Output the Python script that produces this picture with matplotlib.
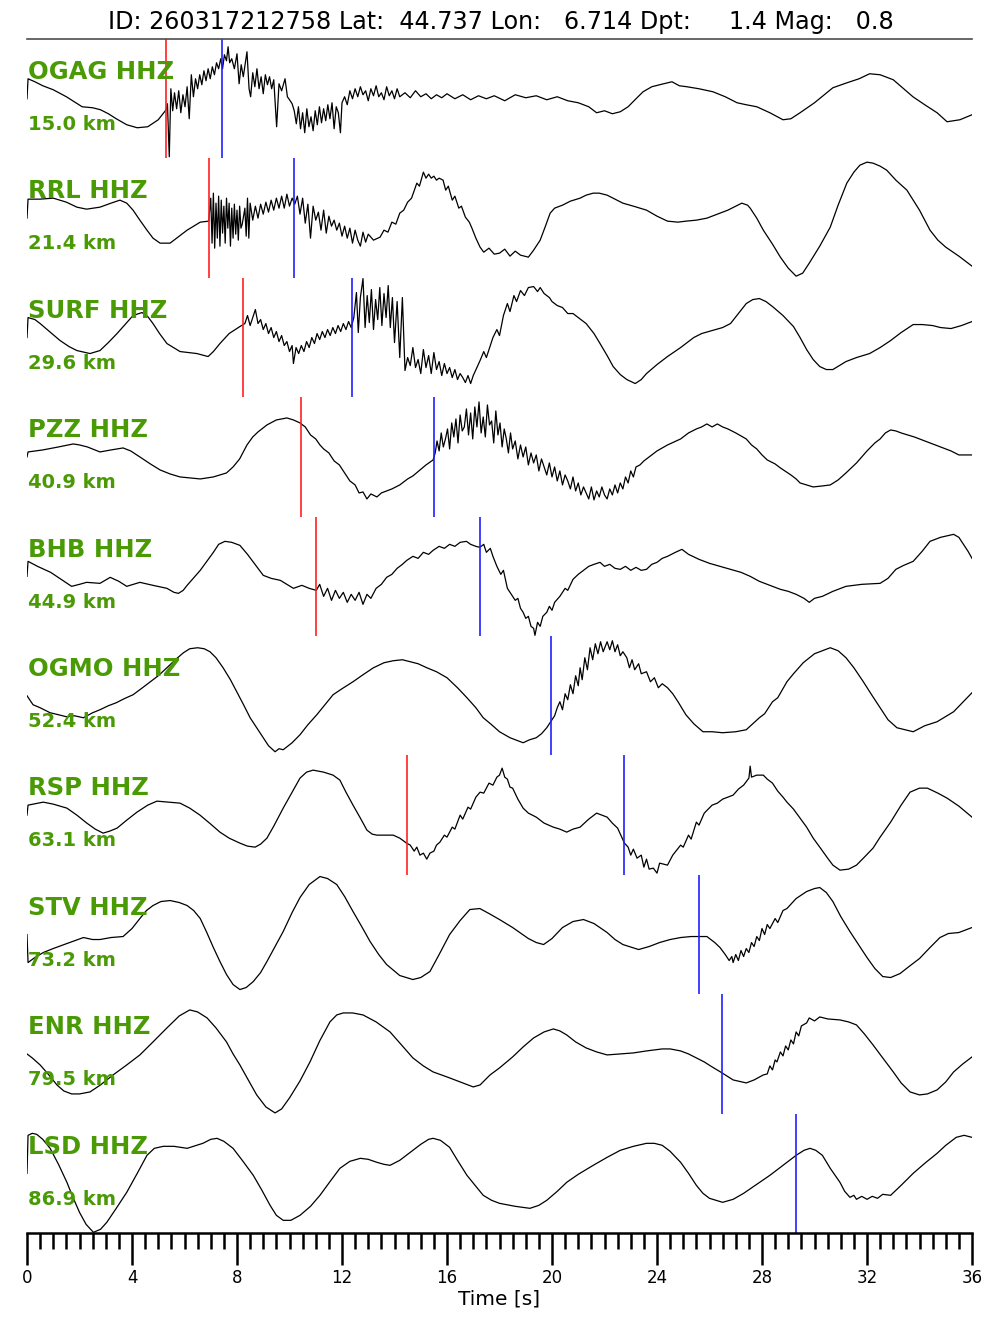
import numpy as np
import matplotlib
matplotlib.use('Agg')
import matplotlib.pyplot as plt
from matplotlib.ticker import MultipleLocator

# ------------------------------------------------------------------
#   Data (time [s], amplitude)
# ------------------------------------------------------------------
title = 'ID: 260317212758 Lat:  44.737 Lon:   6.714 Dpt:     1.4 Mag:   0.8'

stations = ['OGAG HHZ', 'RRL HHZ', 'SURF HHZ', 'PZZ HHZ', 'BHB HHZ',
            'OGMO HHZ', 'RSP HHZ', 'STV HHZ', 'ENR HHZ', 'LSD HHZ']
distances = [15.0, 21.4, 29.6, 40.9, 44.9, 52.4, 63.1, 73.2, 79.5, 86.9]
p_picks = [5.30, 6.92, 8.23, 10.44, 11.02, None, 14.46, None, None, None]
s_picks = [7.43, 10.17, 12.39, 15.50, 17.25, 19.95, 22.76, 25.59, 26.48, 29.30]

ogag = [(0, 0), (0.04, 20), (0.3, 17), (0.6, 13), (1.0, 9), (1.5, 2), (2.1, -8), (2.5, -9),
        (2.8, -11), (3.1, -15), (3.4, -20), (3.8, -26), (4.2, -29), (4.6, -28), (5.0, -21),
        (5.3, -11), (5.35, -5), (5.42, -58), (5.48, 10), (5.55, -12), (5.62, 6), (5.7, -10),
        (5.78, 8), (5.86, -14), (5.94, 4), (6.02, -8), (6.1, 12), (6.18, -20), (6.26, 24),
        (6.34, 2), (6.42, 20), (6.5, 10), (6.58, 24), (6.66, 14), (6.74, 28), (6.82, 18),
        (6.9, 30), (6.98, 20), (7.06, 32), (7.14, 24), (7.22, 36), (7.3, 30), (7.38, 40),
        (7.45, 30), (7.52, 44), (7.6, 38), (7.66, 52), (7.72, 36), (7.8, 40), (7.9, 30),
        (8.0, 45), (8.08, 15), (8.16, 34), (8.24, 22), (8.38, 47), (8.46, 10), (8.52, 2),
        (8.6, 26), (8.68, 12), (8.76, 30), (8.84, 10), (8.92, 22), (9.0, 5), (9.08, 24),
        (9.16, 14), (9.24, 22), (9.32, 10), (9.4, 19), (9.51, -28), (9.6, 15), (9.7, 8),
        (9.83, 20), (9.92, 2), (10.0, -1), (10.1, -5), (10.18, -12), (10.26, -25),
        (10.34, -8), (10.42, -30), (10.5, -14), (10.58, -34), (10.66, -10), (10.74, -28),
        (10.82, -18), (10.9, -32), (10.98, -12), (11.06, -26), (11.14, -8), (11.22, -24),
        (11.3, -10), (11.38, -22), (11.46, -6), (11.54, -20), (11.62, -4), (11.7, -30),
        (11.78, -8), (11.86, -14), (11.94, -34), (12.0, -4), (12.1, 2), (12.2, -6),
        (12.3, 8), (12.4, 0), (12.5, 10), (12.6, 2), (12.7, 12), (12.8, 4), (12.9, 8),
        (13.0, -2), (13.1, 10), (13.2, 3), (13.3, 13), (13.4, 2), (13.5, 6), (13.6, -1),
        (13.7, 12), (13.8, 3), (13.9, 8), (14.0, 0), (14.1, 10), (14.2, 2), (14.4, 6),
        (14.6, 1), (14.8, 8), (15.0, 2), (15.2, 5), (15.4, 0), (15.6, 4), (15.8, 1),
        (16.0, 5), (16.3, 0), (16.6, 4), (16.9, -1), (17.2, 3), (17.5, 0), (17.8, 3),
        (18.2, -2), (18.6, 4), (19.0, 1), (19.4, 3), (19.8, -1), (20.2, 2), (20.6, -2),
        (21.0, -4), (21.4, -8), (21.7, -14), (22.0, -12), (22.3, -15), (22.6, -13),
        (22.9, -8), (23.2, 0), (23.47, 7), (23.8, 12), (24.1, 14), (24.57, 17),
        (24.85, 13), (25.14, 12), (25.6, 10), (26.13, 7), (26.6, 2), (27.05, -4),
        (27.4, -6), (27.8, -8), (28.3, -14), (28.8, -21), (29.1, -20), (29.45, -14),
        (30.0, -4), (30.7, 11), (31.24, 16), (31.7, 20), (32.1, 25), (32.5, 24),
        (33.0, 19), (33.4, 10), (33.75, 2), (34.2, -6), (34.67, -14), (35.05, -23),
        (35.54, -21), (36, -16)]

rrl = [(0, 0), (0.04, 19), (0.5, 19), (1.0, 20), (1.5, 16), (1.9, 11), (2.27, 9),
       (2.78, 11), (3.2, 15), (3.54, 18), (3.8, 15), (4.04, 8), (4.3, -2), (4.57, -12),
       (4.8, -20), (5.07, -25), (5.45, -25), (5.8, -18), (6.1, -12), (6.6, -4), (6.92, -3),
       (7.0, 20), (7.05, -25), (7.1, 25), (7.15, -30), (7.2, 15), (7.25, -20), (7.3, 22),
       (7.35, -28), (7.4, 18), (7.45, -15), (7.5, 12), (7.55, -25), (7.6, 20), (7.65, -10),
       (7.7, 15), (7.75, -28), (7.8, 10), (7.85, -20), (7.9, 14), (7.95, -16), (8.0, 8),
       (8.05, -22), (8.1, 12), (8.15, -10), (8.2, -6), (8.3, 10), (8.35, -18), (8.4, 20),
       (8.45, -20), (8.5, 15), (8.6, -2), (8.7, 12), (8.8, 0), (8.9, 14), (9.0, 4),
       (9.1, 16), (9.2, 6), (9.3, 18), (9.4, 8), (9.5, 20), (9.6, 10), (9.7, 22), (9.8, 10),
       (9.9, 24), (10.0, 12), (10.1, 20), (10.2, 14), (10.3, 22), (10.4, 4), (10.5, 20),
       (10.6, -5), (10.7, 14), (10.8, -20), (10.9, 12), (11.0, -2), (11.1, 6), (11.2, -12),
       (11.3, 8), (11.4, -15), (11.5, 2), (11.6, -8), (11.7, -2), (11.8, -12), (11.9, -5),
       (12.0, -18), (12.1, -8), (12.2, -20), (12.3, -10), (12.4, -25), (12.5, -12),
       (12.6, -22), (12.7, -28), (12.8, -14), (12.9, -24), (13.0, -16), (13.2, -22),
       (13.45, -19), (13.6, -12), (13.75, -14), (13.9, -4), (14.05, -6), (14.2, 5),
       (14.35, 8), (14.5, 16), (14.65, 20), (14.85, 35), (14.95, 32), (15.1, 46),
       (15.2, 40), (15.3, 44), (15.4, 40), (15.5, 42), (15.6, 38), (15.7, 40), (15.85, 38),
       (15.95, 28), (16.05, 32), (16.2, 18), (16.3, 22), (16.45, 10), (16.55, 12),
       (16.7, 1), (16.85, -4), (16.95, -10), (17.1, -20), (17.26, -29), (17.4, -34),
       (17.6, -30), (17.8, -36), (18.0, -35), (18.2, -31), (18.4, -38), (18.6, -33),
       (18.8, -37), (19.1, -39), (19.3, -32), (19.55, -22), (19.75, -8), (19.93, 5),
       (20.1, 10), (20.4, 13), (20.7, 17), (21.07, 20), (21.3, 23), (21.57, 25),
       (21.8, 25), (22.1, 23), (22.4, 19), (22.7, 15), (23.1, 12), (23.6, 8), (24.0, 2),
       (24.4, -3), (24.8, -4), (25.1, -3), (25.5, -2), (25.9, 0), (26.3, 4), (26.7, 8),
       (27.0, 12), (27.23, 15), (27.45, 13), (27.55, 10), (27.8, 0), (28.05, -12),
       (28.4, -26), (28.7, -39), (29.0, -50), (29.3, -58), (29.55, -55), (29.8, -45),
       (30.2, -28), (30.6, -9), (30.9, 13), (31.23, 35), (31.5, 46), (31.73, 53),
       (32.0, 56), (32.23, 55), (32.5, 52), (32.75, 48), (33.1, 38), (33.52, 28), (34.0, 8),
       (34.4, -12), (34.7, -22), (35.0, -29), (35.5, -38), (36, -48)]

surf = [(0, 0), (0.04, 20), (0.3, 18), (0.5, 14), (0.9, 5), (1.26, -3), (1.6, -9),
        (1.9, -13), (2.4, -16), (2.78, -13), (3.1, -5), (3.43, 4), (3.8, 15), (4.04, 22),
        (4.38, 25), (4.6, 21), (4.8, 14), (5.05, 4), (5.33, -6), (5.83, -14), (6.47, -16),
        (6.9, -19), (7.1, -14), (7.35, -6), (7.7, 4), (8.11, 11), (8.3, 14), (8.4, 22),
        (8.5, 12), (8.6, 20), (8.7, 28), (8.8, 14), (8.9, 18), (9.0, 8), (9.1, 14), (9.2, 4),
        (9.3, 10), (9.4, 0), (9.5, 6), (9.6, -4), (9.7, 2), (9.8, -8), (9.9, -4),
        (10.0, -14), (10.1, -8), (10.15, -26), (10.25, -10), (10.35, -16), (10.45, -8),
        (10.55, -14), (10.65, -4), (10.75, -10), (10.85, 0), (10.95, -6), (11.05, 4),
        (11.15, -2), (11.25, 6), (11.35, 0), (11.45, 8), (11.55, 2), (11.65, 10),
        (11.75, 4), (11.85, 12), (11.95, 6), (12.05, 14), (12.15, 8), (12.25, 16),
        (12.35, 10), (12.45, 20), (12.55, 45), (12.62, 5), (12.7, 40), (12.8, 59),
        (12.88, 10), (12.96, 42), (13.04, 15), (13.12, 48), (13.2, 8), (13.28, 38),
        (13.36, 18), (13.44, 50), (13.52, 12), (13.6, 44), (13.68, 20), (13.76, 52),
        (13.84, 10), (13.92, 40), (14.0, -5), (14.1, 36), (14.2, -20), (14.3, 40),
        (14.4, -33), (14.5, -20), (14.6, -28), (14.7, -10), (14.8, -30), (14.9, -22),
        (15.0, -36), (15.1, -12), (15.2, -30), (15.3, -18), (15.4, -36), (15.5, -15),
        (15.6, -32), (15.7, -24), (15.8, -38), (15.9, -26), (16.0, -36), (16.1, -30),
        (16.2, -40), (16.3, -32), (16.4, -42), (16.5, -36), (16.6, -40), (16.7, -45),
        (16.8, -38), (16.9, -46), (17.0, -38), (17.26, -23), (17.4, -14), (17.5, -20),
        (17.75, 0), (17.9, 8), (18.0, 2), (18.15, 22), (18.3, 34), (18.4, 26), (18.55, 42),
        (18.65, 36), (18.8, 47), (18.95, 42), (19.1, 50), (19.3, 51), (19.45, 46),
        (19.55, 50), (19.7, 44), (19.9, 40), (20.0, 36), (20.2, 32), (20.4, 30), (20.6, 24),
        (20.8, 24), (21.3, 14), (21.6, 4), (21.83, -6), (22.1, -18), (22.33, -29),
        (22.6, -37), (22.85, -42), (23.17, -46), (23.4, -42), (23.6, -36), (24.0, -27),
        (24.4, -19), (24.9, -10), (25.4, 0), (25.7, 4), (26.1, 7), (26.5, 10), (26.8, 14),
        (27.1, 24), (27.4, 34), (27.65, 38), (27.9, 39), (28.15, 36), (28.4, 31),
        (28.8, 22), (29.2, 11), (29.45, 0), (29.7, -12), (29.95, -22), (30.2, -29),
        (30.45, -32), (30.7, -32), (30.95, -28), (31.2, -24), (31.6, -20), (32.1, -16),
        (32.5, -10), (32.9, -3), (33.3, 5), (33.76, 13), (34.1, 13), (34.5, 12), (34.8, 10),
        (35.2, 9), (35.6, 12), (36, 16)]

pzz = [(0, 0), (0.04, 5), (0.6, 7), (1.2, 10), (1.76, 13), (2.0, 12), (2.3, 10),
       (2.78, 5), (3.2, 7), (3.66, 9), (3.95, 6), (4.3, 0), (4.7, -7), (5.07, -13),
       (5.45, -17), (5.83, -20), (6.2, -21), (6.6, -22), (7.1, -20), (7.6, -16),
       (7.85, -10), (8.1, -2), (8.38, 12), (8.6, 20), (8.8, 25), (9.14, 32), (9.5, 37),
       (9.9, 39), (10.15, 37), (10.4, 34), (10.6, 30), (10.8, 22), (11.0, 18), (11.16, 12),
       (11.3, 8), (11.5, 4), (11.7, -4), (11.9, -8), (12.1, -16), (12.3, -24), (12.5, -28),
       (12.65, -36), (12.8, -35), (12.95, -42), (13.1, -37), (13.33, -40), (13.5, -36),
       (13.7, -34), (13.9, -32), (14.2, -28), (14.5, -22), (14.7, -19), (14.97, -13),
       (15.2, -8), (15.47, -3), (15.55, 4), (15.62, 16), (15.7, 6), (15.78, 24),
       (15.86, 10), (15.94, 18), (16.02, 28), (16.1, 8), (16.18, 34), (16.26, 20),
       (16.34, 38), (16.42, 14), (16.5, 42), (16.58, 26), (16.66, 30), (16.74, 48),
       (16.82, 22), (16.9, 44), (16.98, 18), (17.06, 50), (17.14, 30), (17.22, 55),
       (17.3, 24), (17.38, 40), (17.46, 20), (17.54, 52), (17.62, 32), (17.7, 36),
       (17.78, 14), (17.86, 46), (17.94, 22), (18.02, 34), (18.1, 10), (18.18, 28),
       (18.26, 18), (18.34, 4), (18.42, 24), (18.5, 8), (18.6, 16), (18.7, -2), (18.8, 12),
       (18.9, 0), (19.0, 10), (19.1, -8), (19.2, 4), (19.3, -6), (19.4, 2), (19.5, -14),
       (19.6, -2), (19.7, -10), (19.8, -18), (19.9, -6), (20.0, -20), (20.1, -10),
       (20.2, -24), (20.3, -14), (20.4, -28), (20.5, -18), (20.6, -24), (20.7, -32),
       (20.8, -20), (20.9, -34), (21.0, -26), (21.1, -38), (21.2, -30), (21.3, -36),
       (21.4, -42), (21.5, -30), (21.6, -43), (21.7, -34), (21.8, -40), (21.9, -30),
       (22.0, -38), (22.1, -42), (22.2, -32), (22.3, -38), (22.4, -28), (22.5, -36),
       (22.6, -26), (22.7, -32), (22.8, -20), (22.9, -26), (23.0, -14), (23.1, -20),
       (23.2, -10), (23.35, -8), (23.5, -4), (23.6, -2), (24.0, 6), (24.4, 12), (24.9, 18),
       (25.2, 24), (25.5, 28), (25.7, 30), (25.9, 33), (26.1, 30), (26.3, 33), (26.5, 30),
       (26.7, 28), (27.0, 24), (27.4, 18), (27.6, 12), (27.8, 8), (28.0, 2), (28.2, -3),
       (28.5, -7), (28.7, -11), (29.1, -18), (29.3, -22), (29.45, -26), (29.7, -28),
       (29.95, -30), (30.3, -29), (30.6, -28), (30.9, -23), (31.2, -16), (31.6, -6),
       (32.0, 6), (32.3, 14), (32.5, 18), (32.7, 24), (32.9, 27), (33.1, 26), (33.3, 24),
       (33.8, 20), (34.3, 15), (34.8, 10), (35.2, 6), (35.5, 2), (36, 2)]

bhb = [(0, 0), (0.04, 15), (0.4, 10), (0.9, 4), (1.3, -3), (1.7, -10), (2.0, -8),
       (2.27, -6), (2.78, -7), (3.17, -1), (3.5, -5), (3.8, -10), (4.3, -6), (4.8, -9),
       (5.33, -12), (5.6, -16), (5.77, -17), (5.95, -14), (6.1, -9), (6.6, 6), (7.1, 24),
       (7.3, 32), (7.54, 35), (7.8, 34), (8.11, 31), (8.4, 22), (8.63, 14), (9.0, 1),
       (9.3, -2), (9.65, -4), (9.9, -8), (10.15, -12), (10.47, -9), (10.75, -12),
       (11.02, -14), (11.15, -8), (11.3, -20), (11.45, -12), (11.6, -24), (11.75, -14),
       (11.9, -22), (12.05, -16), (12.2, -26), (12.35, -18), (12.5, -24), (12.65, -16),
       (12.8, -28), (12.95, -18), (13.1, -22), (13.3, -12), (13.5, -8), (13.7, -1),
       (13.9, 2), (14.1, 8), (14.3, 12), (14.47, 16), (14.7, 20), (14.9, 18), (15.1, 24),
       (15.3, 22), (15.47, 26), (15.7, 30), (15.9, 28), (16.1, 32), (16.3, 30), (16.5, 34),
       (16.74, 35), (16.9, 32), (17.1, 30), (17.25, 29), (17.4, 32), (17.5, 24),
       (17.65, 28), (17.75, 20), (17.9, 10), (18.05, 2), (18.15, 6), (18.3, -12),
       (18.45, -18), (18.6, -24), (18.7, -22), (18.8, -32), (18.9, -36), (19.0, -42),
       (19.1, -40), (19.2, -50), (19.3, -52), (19.35, -59), (19.45, -46), (19.55, -50),
       (19.65, -40), (19.8, -36), (19.9, -30), (20.0, -34), (20.1, -26), (20.3, -20),
       (20.5, -12), (20.6, -14), (20.8, -3), (21.0, 2), (21.2, 6), (21.4, 10), (21.6, 12),
       (21.83, 14), (22.0, 10), (22.2, 12), (22.4, 8), (22.6, 7), (22.8, 10), (23.0, 6),
       (23.2, 9), (23.4, 6), (23.6, 7), (23.8, 12), (24.0, 14), (24.2, 18), (24.4, 20),
       (24.7, 24), (24.95, 27), (25.2, 22), (25.6, 17), (26.0, 13), (26.4, 10), (26.8, 7),
       (27.2, 4), (27.55, 0), (27.9, -5), (28.3, -9), (28.7, -13), (29.0, -15), (29.3, -18),
       (29.6, -22), (29.8, -26), (30.0, -22), (30.3, -20), (30.7, -15), (31.2, -10),
       (31.8, -8), (32.5, -7), (32.8, -2), (33.1, 7), (33.4, 11), (33.76, 15), (34.1, 25),
       (34.4, 35), (34.8, 39), (35.3, 42), (35.5, 39), (35.65, 33), (35.85, 25), (36, 18)]

ogmo = [(0, 0), (0.23, -9), (0.5, -12), (0.88, -17), (1.2, -19), (1.5, -21), (1.8, -20),
        (2.15, -22), (2.5, -17), (2.78, -14), (3.1, -10), (3.4, -7), (3.7, -3), (4.04, 1),
        (4.4, 8), (4.7, 14), (5.0, 20), (5.33, 28), (5.65, 36), (5.96, 43), (6.2, 47),
        (6.5, 48), (6.75, 47), (6.97, 44), (7.2, 38), (7.47, 28), (7.75, 16), (7.99, 4),
        (8.25, -9), (8.5, -22), (8.75, -32), (9.0, -42), (9.2, -50), (9.45, -56),
        (9.6, -53), (9.76, -54), (10.1, -47), (10.4, -39), (10.7, -29), (11.04, -19),
        (11.35, -9), (11.66, 1), (12.0, 7), (12.42, 14), (12.8, 21), (13.2, 28), (13.6, 33),
        (13.95, 35), (14.3, 36), (14.6, 34), (14.9, 32), (15.23, 28), (15.6, 24), (16.0, 18),
        (16.4, 8), (16.76, -2), (17.1, -12), (17.38, -22), (17.7, -29), (18.0, -36),
        (18.4, -42), (18.9, -47), (19.15, -44), (19.4, -42), (19.6, -38), (19.8, -32),
        (19.95, -26), (20.1, -20), (20.2, -12), (20.3, -6), (20.4, -14), (20.5, 2),
        (20.6, -4), (20.7, 11), (20.8, 2), (20.9, 20), (21.0, 10), (21.07, 28), (21.15, 16),
        (21.25, 38), (21.35, 26), (21.45, 48), (21.55, 36), (21.65, 52), (21.75, 42),
        (21.85, 54), (21.95, 44), (22.1, 54), (22.2, 46), (22.3, 55), (22.4, 44),
        (22.5, 51), (22.6, 40), (22.7, 44), (22.85, 38), (22.95, 28), (23.05, 36),
        (23.15, 26), (23.3, 32), (23.4, 22), (23.6, 24), (23.75, 14), (23.9, 18),
        (24.05, 8), (24.2, 12), (24.4, 8), (24.6, 2), (24.8, -6), (25.1, -19), (25.4, -28),
        (25.75, -36), (26.1, -36), (26.5, -37), (27.0, -36), (27.4, -34), (27.9, -22),
        (28.1, -18), (28.4, -6), (28.6, -2), (28.95, 14), (29.2, 22), (29.57, 33),
        (30.0, 42), (30.6, 48), (30.9, 45), (31.2, 38), (31.5, 28), (31.86, 14), (32.2, 0),
        (32.5, -12), (32.8, -24), (33.14, -32), (33.76, -36), (34.2, -30), (34.67, -26),
        (35.3, -16), (36, 3)]

rsp = [(0, 0), (0.04, 10), (0.62, 13), (1.0, 11), (1.52, 7), (1.9, 0), (2.28, -8),
       (2.6, -14), (2.9, -18), (3.15, -16), (3.43, -13), (3.8, -5), (4.19, 3), (4.6, 10),
       (4.95, 14), (5.4, 13), (5.83, 12), (6.2, 7), (6.59, 0), (7.0, -9), (7.35, -17),
       (7.7, -23), (8.11, -28), (8.4, -31), (8.69, -32), (8.9, -29), (9.14, -23),
       (9.4, -11), (9.76, 7), (10.1, 23), (10.4, 37), (10.65, 43), (10.9, 45), (11.3, 43),
       (11.66, 40), (11.92, 35), (12.15, 23), (12.42, 10), (12.7, -3), (12.95, -15),
       (13.15, -19), (13.33, -20), (13.95, -20), (14.2, -23), (14.46, -28), (14.6, -30),
       (14.75, -36), (14.85, -32), (14.97, -40), (15.1, -38), (15.23, -44), (15.35, -38),
       (15.5, -36), (15.6, -30), (15.73, -27), (15.9, -20), (16.0, -22), (16.2, -12),
       (16.3, -14), (16.5, 0), (16.6, -4), (16.8, 8), (16.9, 6), (17.1, 18), (17.26, 23),
       (17.4, 22), (17.6, 32), (17.75, 30), (17.9, 38), (18.0, 40), (18.1, 47), (18.2, 38),
       (18.3, 36), (18.4, 28), (18.5, 27), (18.7, 16), (18.9, 7), (19.1, 2), (19.4, -2),
       (19.7, -8), (20.05, -12), (20.3, -14), (20.56, -17), (20.8, -14), (21.07, -12),
       (21.4, -4), (21.7, 2), (21.9, 0), (22.1, -2), (22.3, -8), (22.5, -13), (22.76, -28),
       (22.9, -32), (23.0, -40), (23.1, -34), (23.24, -43), (23.4, -40), (23.5, -52),
       (23.6, -44), (23.7, -54), (23.86, -53), (24.0, -58), (24.1, -48), (24.4, -50),
       (24.6, -40), (24.9, -30), (25.0, -32), (25.2, -20), (25.3, -24), (25.5, -7),
       (25.6, -10), (25.8, 2), (26.1, 10), (26.3, 12), (26.5, 16), (26.9, 20), (27.1, 26),
       (27.3, 30), (27.5, 37), (27.55, 49), (27.6, 38), (27.8, 40), (28.05, 40),
       (28.2, 36), (28.4, 32), (28.6, 24), (28.8, 18), (28.95, 13), (29.2, 6), (29.45, -3),
       (29.7, -12), (29.95, -23), (30.2, -32), (30.5, -43), (30.7, -50), (30.97, -55),
       (31.3, -54), (31.6, -50), (31.9, -42), (32.23, -33), (32.5, -22), (32.9, -7),
       (33.3, 10), (33.64, 23), (34.0, 27), (34.3, 27), (34.7, 22), (35.05, 17),
       (35.5, 9), (36, -2)]

stv = [(0, 0), (0.04, -28), (0.3, -23), (0.62, -18), (1.0, -14), (1.52, -9), (2.15, -3),
       (2.5, -5), (2.78, -5), (3.2, -3), (3.66, -2), (4.0, 6), (4.3, 16), (4.55, 24),
       (4.8, 29), (5.1, 33), (5.45, 34), (5.8, 32), (6.1, 29), (6.35, 24), (6.6, 16),
       (6.85, 2), (7.1, -13), (7.35, -27), (7.6, -40), (7.85, -50), (8.11, -55),
       (8.35, -53), (8.62, -47), (8.9, -38), (9.14, -27), (9.45, -12), (9.76, 3),
       (10.1, 22), (10.4, 37), (10.75, 50), (11.16, 58), (11.45, 56), (11.8, 50),
       (12.1, 38), (12.42, 23), (12.75, 8), (13.07, -7), (13.4, -20), (13.7, -30),
       (14.2, -41), (14.7, -45), (15.0, -43), (15.35, -37), (15.7, -20), (16.1, 0),
       (16.5, 14), (16.87, 25), (17.25, 26), (17.6, 21), (18.0, 15), (18.5, 7), (19.1, -4),
       (19.4, -8), (19.68, -10), (20.0, -4), (20.4, 7), (20.8, 13), (21.2, 15), (21.6, 11),
       (22.1, 2), (22.4, -5), (22.7, -10), (23.3, -15), (23.7, -12), (24.1, -8),
       (24.5, -5), (24.9, -3), (25.3, -2), (25.59, -2), (25.9, -2), (26.2, -8),
       (26.4, -13), (26.6, -20), (26.75, -26), (26.85, -22), (26.9, -28), (27.0, -20),
       (27.1, -26), (27.2, -16), (27.3, -22), (27.4, -14), (27.5, -18), (27.6, -8),
       (27.7, -12), (27.8, -2), (27.9, -6), (28.0, 6), (28.1, 0), (28.2, 10), (28.3, 6),
       (28.5, 16), (28.6, 12), (28.8, 24), (28.95, 26), (29.3, 36), (29.7, 43), (30.0, 46),
       (30.2, 47), (30.45, 42), (30.7, 33), (31.0, 18), (31.35, 3), (31.7, -11),
       (32.0, -23), (32.3, -34), (32.6, -42), (32.9, -43), (33.26, -39), (33.6, -32),
       (34.0, -24), (34.4, -13), (34.78, -3), (35.1, 1), (35.5, 2), (35.8, 5), (36, 7)]

enr = [(0, 0), (0.2, -4), (0.5, -11), (0.8, -20), (1.14, -31), (1.4, -37), (1.7, -40),
       (2.0, -40), (2.4, -38), (2.8, -31), (3.28, -21), (3.8, -11), (4.3, -1), (4.8, 12),
       (5.33, 26), (5.8, 38), (6.2, 44), (6.5, 42), (6.86, 36), (7.2, 26), (7.6, 12),
       (7.85, 0), (8.11, -11), (8.45, -27), (8.75, -41), (9.1, -53), (9.45, -59),
       (9.7, -55), (10.0, -44), (10.4, -27), (10.78, -8), (11.15, 13), (11.54, 32),
       (11.8, 39), (12.05, 41), (12.4, 41), (12.8, 39), (13.3, 32), (13.83, 22), (14.3, 8),
       (14.7, -4), (15.1, -12), (15.47, -18), (16.0, -23), (16.5, -28), (16.8, -31),
       (17.0, -33), (17.26, -31), (17.64, -21), (18.0, -14), (18.5, -3), (18.9, 7),
       (19.3, 16), (19.7, 22), (20.05, 25), (20.3, 23), (20.56, 19), (20.9, 12), (21.3, 6),
       (21.7, 2), (22.1, -1), (22.6, 0), (23.1, 1), (23.6, 3), (24.2, 5), (24.5, 5),
       (24.9, 3), (25.2, 0), (25.5, -4), (25.8, -8), (26.1, -13), (26.48, -19), (26.9, -26),
       (27.4, -29), (27.7, -26), (28.05, -21), (28.2, -20), (28.3, -12), (28.4, -16),
       (28.5, -6), (28.57, -8), (28.7, 2), (28.8, -2), (28.9, 8), (29.0, 4), (29.1, 14),
       (29.2, 10), (29.3, 22), (29.4, 18), (29.5, 28), (29.7, 31), (29.8, 36), (30.0, 33),
       (30.2, 37), (30.5, 35), (30.97, 34), (31.3, 32), (31.6, 29), (31.9, 20), (32.23, 9),
       (32.6, -4), (33.0, -18), (33.3, -29), (33.64, -38), (34.0, -41), (34.3, -40),
       (34.67, -36), (35.0, -28), (35.3, -18), (35.65, -10), (36, -3)]

lsd = [(0, 0), (0.04, 38), (0.2, 40), (0.37, 39), (0.6, 34), (0.88, 25), (1.2, 9),
       (1.52, -9), (1.75, -24), (2.0, -39), (2.25, -51), (2.53, -59), (2.8, -56),
       (3.04, -49), (3.4, -35), (3.8, -19), (4.2, 0), (4.57, 18), (4.85, 25), (5.19, 27),
       (5.6, 27), (6.1, 25), (6.7, 30), (7.0, 34), (7.24, 35), (7.5, 32), (7.85, 25),
       (8.2, 13), (8.62, -2), (8.95, -17), (9.26, -32), (9.5, -42), (9.76, -47),
       (10.05, -47), (10.4, -42), (10.8, -33), (11.16, -22), (11.55, -8), (11.92, 5),
       (12.3, 12), (12.7, 15), (13.0, 14), (13.33, 11), (13.6, 9), (13.83, 8), (14.2, 13),
       (14.6, 21), (15.0, 29), (15.3, 34), (15.47, 35), (15.75, 33), (16.1, 26), (16.4, 13),
       (16.76, -2), (17.1, -13), (17.38, -22), (17.7, -27), (18.0, -30), (18.6, -33),
       (19.16, -35), (19.5, -32), (19.8, -27), (20.2, -18), (20.56, -9), (21.0, -1),
       (21.57, 8), (22.1, 16), (22.6, 23), (23.1, 27), (23.6, 30), (23.9, 30), (24.2, 28),
       (24.5, 22), (24.9, 11), (25.2, 0), (25.5, -12), (25.75, -20), (26.0, -25),
       (26.5, -29), (26.9, -26), (27.3, -20), (27.8, -11), (28.3, -2), (28.8, 8),
       (29.3, 18), (29.6, 23), (29.83, 25), (30.05, 23), (30.3, 18), (30.6, 5), (30.97, -9),
       (31.15, -18), (31.35, -24), (31.5, -22), (31.6, -26), (31.8, -23), (32.0, -26),
       (32.2, -23), (32.4, -25), (32.6, -21), (32.9, -22), (33.3, -12), (33.76, 0),
       (34.2, 10), (34.67, 20), (35.0, 28), (35.4, 36), (35.7, 38), (36, 36)]

traces = [ogag, rrl, surf, pzz, bhb, ogmo, rsp, stv, enr, lsd]
slot_px = 119.4     # amplitudes above are in image pixels of one trace slot
green = '#4a9a06'


def main():
    fig = plt.figure(figsize=(10, 13.33), dpi=100)
    ax = fig.add_axes([0.027, 0.075, 0.945, 0.8957])

    n = len(traces)
    for i, tr in enumerate(traces):
        t = np.array([p[0] for p in tr])
        a = np.array([p[1] for p in tr]) / slot_px
        center = n - i - 0.5
        ax.plot(t, center + a, color='k', lw=0.9)

        top = n - i
        if p_picks[i] is not None:
            ax.vlines(p_picks[i], top - 1, top, color='#ff2020', lw=1.2)
        ax.vlines(s_picks[i], top - 1, top, color='#2020ff', lw=1.2)

        ax.text(0.04, top - 40 / slot_px, stations[i], color=green,
                fontsize=17.5, fontweight='bold', va='baseline', ha='left')
        ax.text(0.04, top - 91 / slot_px, '%.1f km' % distances[i], color=green,
                fontsize=14, fontweight='bold', va='baseline', ha='left')

    ax.set_xlim(0, 36)
    ax.set_ylim(0, n)
    ax.set_yticks([])
    for side in ['left', 'right']:
        ax.spines[side].set_visible(False)
    ax.spines['top'].set_color('0.3')
    ax.spines['top'].set_linewidth(1.2)
    ax.spines['bottom'].set_linewidth(1.8)

    ax.xaxis.set_major_locator(MultipleLocator(4))
    ax.xaxis.set_minor_locator(MultipleLocator(0.5))
    ax.tick_params(axis='x', which='major', direction='out', length=23, width=1.8,
                   labelsize=12, pad=3)
    ax.tick_params(axis='x', which='minor', direction='out', length=11.5, width=1.8)
    ax.set_xlabel('Time [s]', fontsize=14.5, labelpad=2)

    fig.text(0.501, 1 - 22 / 1333, title, fontsize=17.2, ha='center', va='center')

    fig.savefig('out.png', dpi=100)


if __name__ == '__main__':
    plt.close('all')
    main()
